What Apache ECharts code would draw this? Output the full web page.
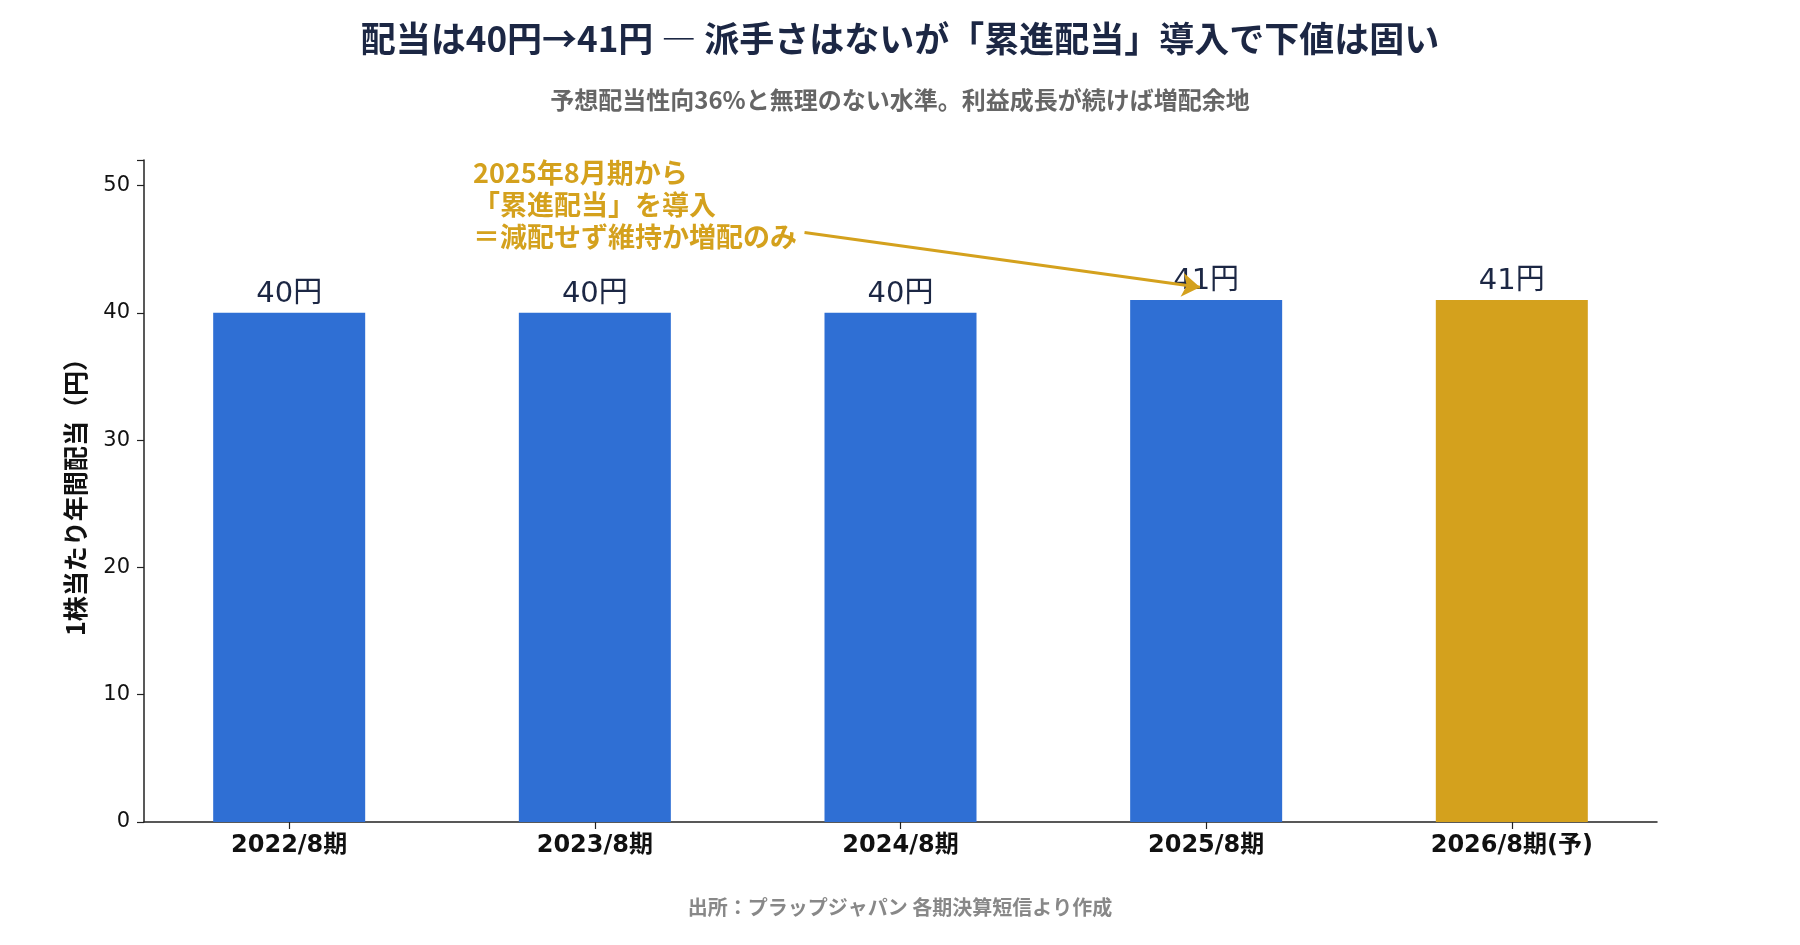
<!DOCTYPE html>
<html>
<head>
<meta charset="utf-8">
<script src="https://cdn.jsdelivr.net/npm/echarts@6/dist/echarts.min.js"></script>
<style>
html, body { margin: 0; padding: 0; background: #fff; }
#chart { width: 1800px; height: 945px; }
</style>
</head>
<body>
<div id="chart"></div>
<script>
// 配当推移
const categories = ['2022/8期', '2023/8期', '2024/8期', '2025/8期', '2026/8期(予)'];
const dividends = [40, 40, 40, 41, 41];
const yTicks = [0, 10, 20, 30, 40, 50];
const annotationLines = ['2025年8月期から', '「累進配当」を導入', '＝減配せず維持か増配のみ'];
// 矢印の始点と終点 (x=期のインデックス, y=円)
const arrowFrom = [1.686, 46.3];
const arrowTo = [2.98, 42.0];

const FONT = '"Noto Sans CJK JP", "Noto Sans", sans-serif';
const NUM_FONT = '"DejaVu Sans", "Noto Sans CJK JP", sans-serif';
const BLUE = '#2F6FD4';
const GOLD = '#D4A11D';
const NAVY = '#1C2744';

const chart = echarts.init(document.getElementById('chart'));

const option = {
    backgroundColor: '#ffffff',
    textStyle: { fontFamily: FONT },
    grid: { left: 144, right: 143, top: 160, bottom: 123 },
    xAxis: {
        type: 'value',
        min: -0.475,
        max: 4.475,
        splitLine: { show: false },
        axisLine: { show: true, onZero: false, lineStyle: { color: '#222', width: 1.5 } },
        axisTick: { show: true, length: 7, customValues: categories.map((c, i) => i), lineStyle: { color: '#222', width: 1.2 } },
        axisLabel: {
            customValues: categories.map((c, i) => i),
            formatter: v => categories[Math.round(v)] || '',
            color: '#111',
            fontFamily: NUM_FONT,
            fontSize: 24,
            fontWeight: 'bold',
            margin: 12
        }
    },
    yAxis: {
        type: 'value',
        min: 0,
        max: 52,
        interval: 10,
        name: '1株当たり年間配当（円）',
        nameLocation: 'middle',
        nameGap: 56,
        nameTextStyle: { fontSize: 25, fontWeight: 'bold', color: '#111' },
        splitLine: { show: false },
        axisLine: { show: true, onZero: false, lineStyle: { color: '#222', width: 1.5 } },
        axisTick: { show: true, length: 7, lineStyle: { color: '#222', width: 1.2 } },
        axisLabel: {
            customValues: yTicks,
            color: '#111',
            fontFamily: NUM_FONT,
            fontSize: 21,
            margin: 14
        }
    },
    series: [
        {
            type: 'bar',
            barWidth: 152,
            data: dividends.map((v, i) => [i, v]),
            itemStyle: {
                color: p => (p.dataIndex === dividends.length - 1 ? GOLD : BLUE)
            },
            label: {
                show: true,
                position: 'top',
                distance: 4,
                formatter: p => p.value[1] + '円',
                fontFamily: NUM_FONT,
                fontSize: 29,
                color: NAVY
            },
            markLine: {
                silent: true,
                z: 10,
                symbol: ['none', 'arrow'],
                symbolSize: 18,
                label: { show: false },
                lineStyle: { color: GOLD, width: 3, type: 'solid' },
                data: [[{ coord: arrowFrom }, { coord: arrowTo }]]
            }
        }
    ],
    graphic: [
        {
            type: 'text',
            left: 'center',
            top: 21,
            style: {
                text: '配当は40円→41円 ― 派手さはないが「累進配当」導入で下値は固い',
                font: 'bold 35px ' + FONT,
                fill: NAVY
            }
        },
        {
            type: 'text',
            left: 'center',
            top: 88,
            style: {
                text: '予想配当性向36%と無理のない水準。利益成長が続けば増配余地',
                font: 'bold 24px ' + FONT,
                fill: '#666'
            }
        },
        {
            type: 'text',
            left: 473,
            top: 157,
            style: {
                text: annotationLines.join('\n'),
                font: 'bold 27px ' + FONT,
                lineHeight: 32,
                fill: GOLD
            }
        },
        {
            type: 'text',
            left: 'center',
            top: 897,
            style: {
                text: '出所：プラップジャパン 各期決算短信より作成',
                font: 'bold 20px ' + FONT,
                fill: '#888'
            }
        }
    ]
};

chart.setOption(option);
</script>
</body>
</html>
